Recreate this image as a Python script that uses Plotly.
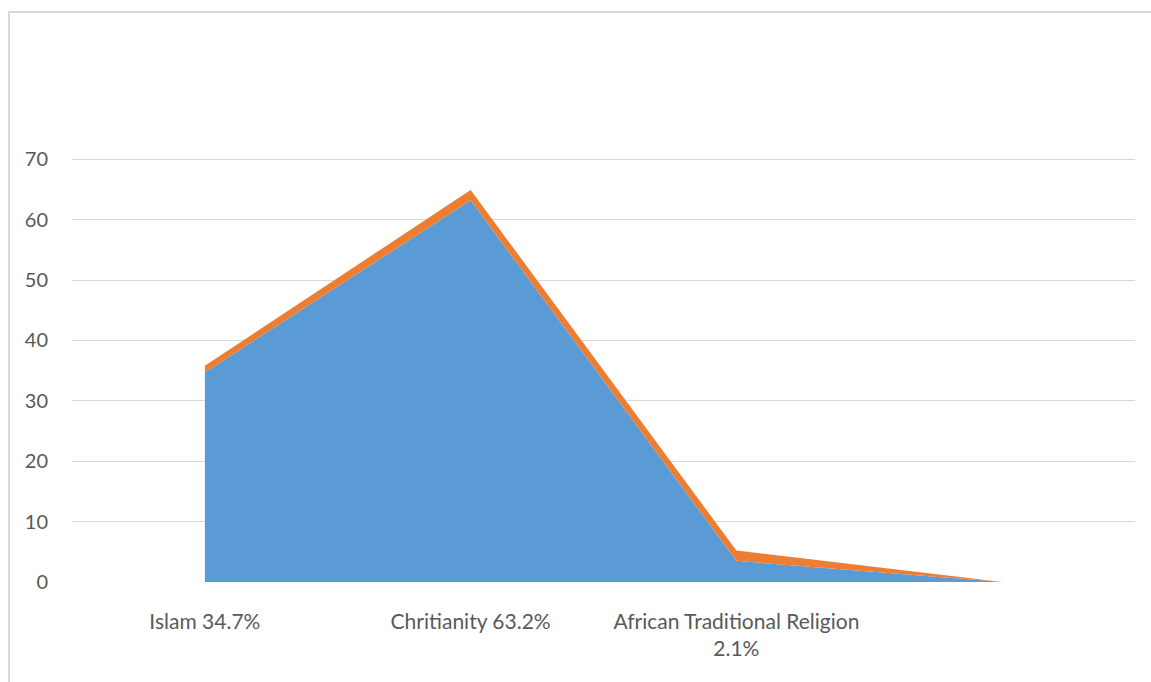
import plotly.graph_objects as go

# Religious affiliation, stacked area
categories = ["Islam 34.7%", "Chritianity 63.2%", "African Traditional Religion<br>2.1%", ""]
series_1 = [34.7, 63.2, 3.5, 0]
series_2 = [1.1, 1.7, 1.7, 0]
y_ticks = [0, 10, 20, 30, 40, 50, 60, 70]

x_pos = list(range(len(categories)))

fig = go.Figure()
fig.add_trace(go.Scatter(
    x=x_pos, y=series_1, stackgroup="one", mode="lines",
    line=dict(width=0, color="#5B9BD5"), fillcolor="#5B9BD5",
    name="Series1", hoverinfo="skip",
))
fig.add_trace(go.Scatter(
    x=x_pos, y=series_2, stackgroup="one", mode="lines",
    line=dict(width=0, color="#ED7D31"), fillcolor="#ED7D31",
    name="Series2", hoverinfo="skip",
))

fig.update_layout(
    width=1151, height=682,
    margin=dict(l=72, r=16, t=158, b=100),
    paper_bgcolor="white", plot_bgcolor="white",
    showlegend=False,
    font=dict(family="Lato", size=20, color="#595959"),
    xaxis=dict(
        range=[-0.5, len(categories) - 0.5],
        tickmode="array", tickvals=x_pos[:3], ticktext=categories[:3],
        showgrid=False, zeroline=False, showline=False, ticks="",
        ticklabelstandoff=25,
        tickfont=dict(family="Lato", size=21, color="#595959"),
        fixedrange=True,
    ),
    yaxis=dict(
        range=[0, 70.2], tickmode="array", tickvals=y_ticks,
        showgrid=True, gridcolor="#D9D9D9", gridwidth=1,
        zeroline=False, showline=False, ticks="",
        ticklabelstandoff=23,
        tickfont=dict(family="Lato", size=20, color="#595959"),
        fixedrange=True,
    ),
    shapes=[dict(
        type="rect", xref="paper", yref="paper",
        x0=-63 / 1063, x1=1.05, y0=-0.3, y1=1 + 146 / 424,
        line=dict(color="#D9D9D9", width=2), fillcolor="rgba(0,0,0,0)",
        layer="below",
    )],
)

fig.write_html("out.html")
